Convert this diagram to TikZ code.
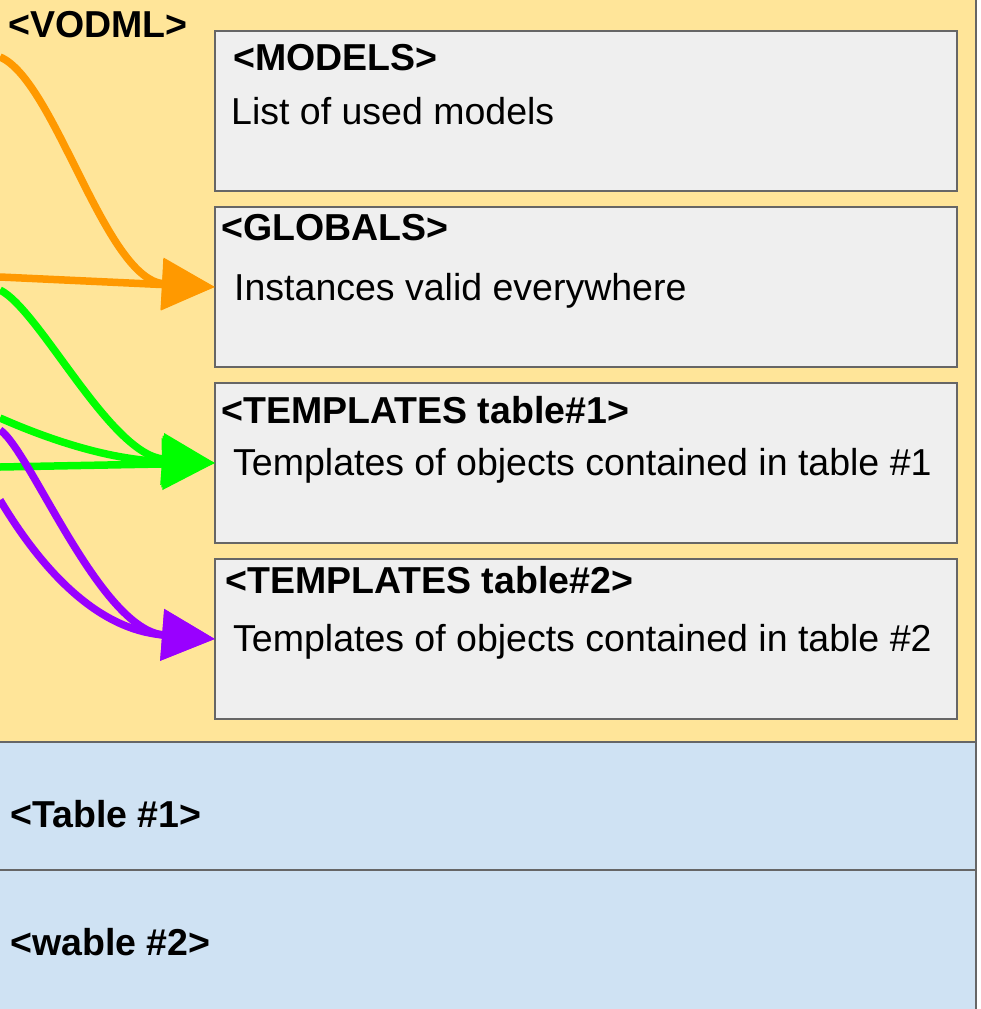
\documentclass[tikz,border=0pt]{standalone}
\usepackage{fontspec}
\setmainfont{Liberation Sans}
\usetikzlibrary{arrows.meta}
\definecolor{vyellow}{HTML}{FFE599}
\definecolor{vblue}{HTML}{CFE2F3}
\definecolor{vgray}{HTML}{EFEFEF}
\definecolor{vborder}{HTML}{666666}
\definecolor{vorange}{HTML}{FF9900}
\definecolor{vgreen}{HTML}{00FF00}
\definecolor{vpurple}{HTML}{9900FF}
\begin{document}
\begin{tikzpicture}[x=1pt,y=-1pt,
  edgeline/.style={draw=vborder, line width=2pt},
  subbox/.style={draw=vborder, fill=vgray, line width=2pt, minimum width=742pt,
    minimum height=160pt, inner sep=0pt, outer sep=0pt, anchor=north west},
  hdr/.style={font=\fontsize{37.5}{44}\selectfont\bfseries, anchor=base west, inner sep=0pt},
  body/.style={font=\fontsize{37.5}{44}\selectfont, anchor=base west, inner sep=0pt},
  conn/.style={line width=7.5pt, -{Triangle[length=53pt,width=50pt]}}]
\useasboundingbox (0,0) rectangle (980,1009);
% panels
\fill[vyellow] (0,0) rectangle (976,742);
\fill[vblue] (0,742) rectangle (976,870);
\fill[vblue] (0,870) rectangle (976,1009);
\draw[edgeline] (976,0) -- (976,1009);
\draw[edgeline] (0,742) -- (976,742);
\draw[edgeline] (0,870) -- (976,870);
% sub boxes
\node[subbox] (models) at (215,31) {};
\node[subbox] (globals) at (215,207) {};
\node[subbox] (tpl1) at (215,383) {};
\node[subbox] (tpl2) at (215,559) {};
% texts
\node[hdr] (tvodml) at (8,37) {<VODML>};
\node[hdr] (tmodels) at (233,70) {<MODELS>};
\node[body] (bmodels) at (231,124) {List of used models};
\node[hdr] (tglobals) at (221,240) {<GLOBALS>};
\node[body] (bglobals) at (234,300) {Instances valid everywhere};
\node[hdr] (ttpl1) at (221,423) {<TEMPLATES table\#1>};
\node[body] (btpl1) at (233,475) {Templates of objects contained in table \#1};
\node[hdr] (ttpl2) at (225,593) {<TEMPLATES table\#2>};
\node[body] (btpl2) at (233,651) {Templates of objects contained in table \#2};
\node[hdr] (ttab1) at (10,827) {<Table \#1>};
\node[hdr] (ttab2) at (10,955) {<wable \#2>};
% connector start points
\coordinate (oA) at (0,57);
\coordinate (oB) at (0,277);
\coordinate (gA) at (0,290);
\coordinate (gB) at (0,418);
\coordinate (gC) at (0,467);
\coordinate (pA) at (0,430);
\coordinate (pB) at (0,500);
% connectors
\draw[conn, vorange] (oA) .. controls (55,80) and (105,280) .. (globals.west);
\draw[conn, vorange] (oB) -- (globals.west);
\draw[conn, vgreen] (gA) .. controls (40,310) and (110,455) .. (tpl1.west);
\draw[conn, vgreen] (gB) .. controls (50,440) and (110,460) .. (tpl1.west);
\draw[conn, vgreen] (gC) -- (tpl1.west);
\draw[conn, vpurple] (pA) .. controls (30,450) and (100,630) .. (tpl2.west);
\draw[conn, vpurple] (pB) .. controls (45,575) and (100,630) .. (tpl2.west);
\end{tikzpicture}
\end{document}
